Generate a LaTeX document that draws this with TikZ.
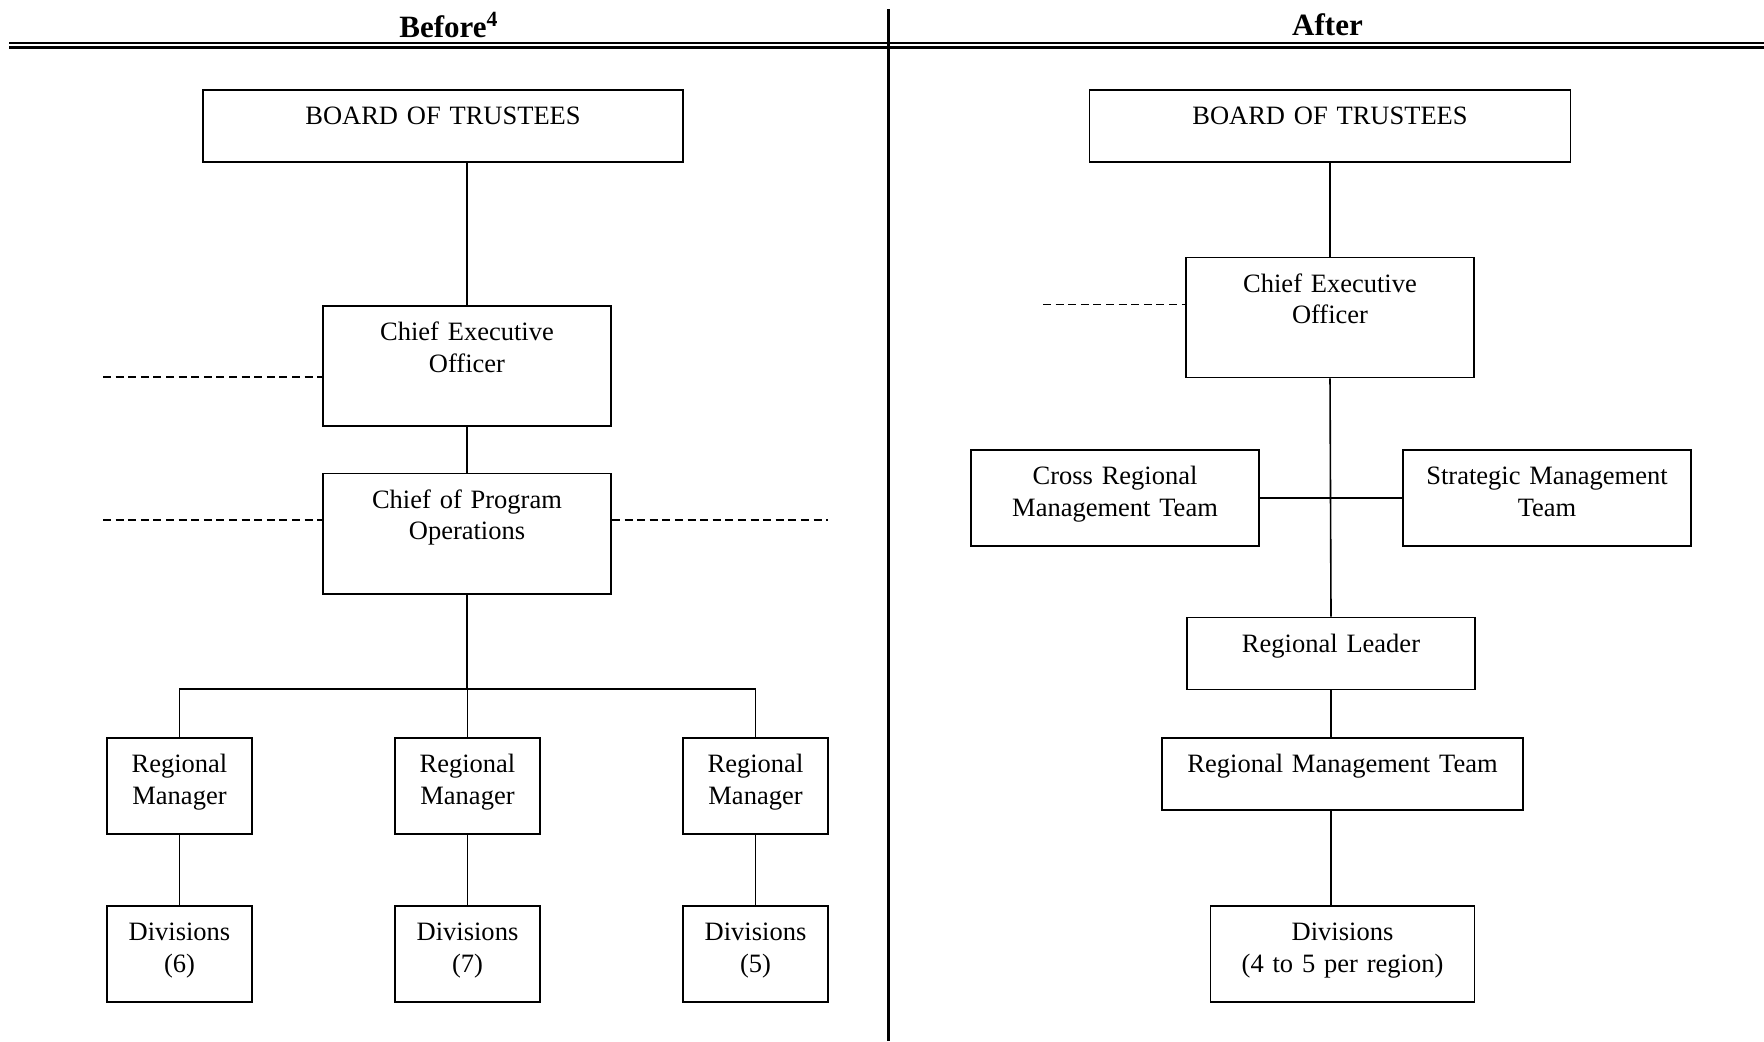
\documentclass[tikz,border=0pt]{standalone}
\usepackage{fontspec}
\setmainfont{Liberation Serif}
\usepackage{tikz}

\begin{document}
\begin{tikzpicture}[x=0.5pt,y=-0.5pt,
	orgbox/.style 2 args={draw, line width=0.9pt, inner sep=0pt, align=center, anchor=north, text width=#1, text height=17.4pt, text depth=#2, font=\fontsize{13.25}{15.75}\selectfont},
	head/.style={font=\fontsize{15.5}{18}\selectfont\bfseries, inner sep=0pt},
	link/.style={line width=0.8pt},
	dotlink/.style={line width=0.8pt, dash pattern=on 4pt off 2.3pt}]
	
	\useasboundingbox (0,0) rectangle (1764,1041);
	
	\node[head] (before) at (449,25) {Before\textsuperscript{4}};
	\node[head] (after) at (1327.5,25) {After};
	\draw[line width=1.2pt] (9,43) -- (1764,43);
	\draw[line width=1.2pt] (9,47.5) -- (1764,47.5);
	\draw[line width=1.5pt] (888,9) -- (888,1041);
	
	\node[orgbox={240.25pt}{18.6pt}] (boardL) at (443,89) {BOARD OF TRUSTEES};
	\node[orgbox={144pt}{42.6pt}] (ceoL) at (467,305) {Chief Executive\\Officer};
	\node[orgbox={144pt}{42.85pt}] (cpoL) at (467,472.5) {Chief of Program\\Operations};
	\node[orgbox={72.5pt}{30.6pt}] (rmA) at (179.5,737) {Regional\\Manager};
	\node[orgbox={72.5pt}{30.6pt}] (rmB) at (467.5,737) {Regional\\Manager};
	\node[orgbox={72.5pt}{30.6pt}] (rmC) at (755.5,737) {Regional\\Manager};
	\node[orgbox={72.5pt}{30.6pt}] (divA) at (179.5,905) {Divisions\\(6)};
	\node[orgbox={72.5pt}{30.6pt}] (divB) at (467.5,905) {Divisions\\(7)};
	\node[orgbox={72.5pt}{30.6pt}] (divC) at (755.5,905) {Divisions\\(5)};
	
	\coordinate (bus) at (467,689);
	\coordinate (dashA) at (103,377);
	\coordinate (dashB) at (103,520);
	\coordinate (dashC) at (828,520);
	
	\draw[link] (ceoL.north) -- (ceoL.north |- boardL.south);
	\draw[link] (ceoL.south) -- (cpoL.north);
	\draw[link] (cpoL.south) -- (bus);
	\draw[link] (rmA.north) |- (bus) -| (rmC.north);
	\draw[link] (rmB.north) -- (rmB.north |- bus);
	\draw[link] (rmA.south) -- (divA.north);
	\draw[link] (rmB.south) -- (divB.north);
	\draw[link] (rmC.south) -- (divC.north);
	\draw[dotlink] (dashA) -- (dashA -| ceoL.west);
	\draw[dotlink] (dashB) -- (dashB -| cpoL.west);
	\draw[dotlink] (cpoL.east |- dashC) -- (dashC);
	
	\node[orgbox={240.5pt}{18.6pt}] (boardR) at (1330,89) {BOARD OF TRUSTEES};
	\node[orgbox={144pt}{42.6pt}] (ceoR) at (1330,256.5) {Chief Executive\\Officer};
	\node[orgbox={144pt}{30.6pt}] (crmt) at (1115,449) {Cross Regional\\Management Team};
	\node[orgbox={144pt}{30.6pt}] (smt) at (1547,449) {Strategic Management\\Team};
	\node[orgbox={144pt}{18.6pt}] (lead) at (1331,616.5) {Regional Leader};
	\node[orgbox={180.5pt}{18.6pt}] (rmt) at (1342.5,737) {Regional Management Team};
	\node[orgbox={132pt}{30.6pt}] (divR) at (1342.5,905) {Divisions\\(4 to 5 per region)};
	
	\coordinate (dashD) at (1043,304.5);
	
	\draw[link] (ceoR.north) -- (ceoR.north |- boardR.south);
	\draw[link] (ceoR.south) -- (lead.north);
	\draw[link] (crmt.east) -- (smt.west);
	\draw[link] (lead.south) -- (lead.south |- rmt.north);
	\draw[link] (lead.south |- rmt.south) -- (lead.south |- divR.north);
	\draw[dotlink] (dashD) -- (dashD -| ceoR.west);
\end{tikzpicture}
\end{document}
